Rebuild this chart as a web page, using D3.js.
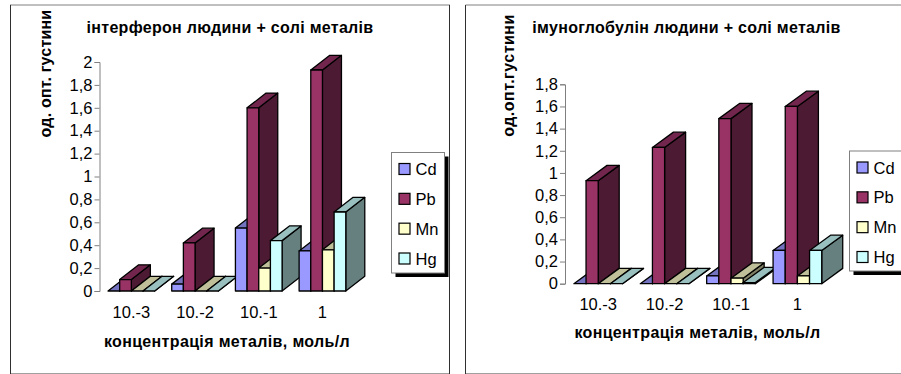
<!DOCTYPE html>
<html>
<head>
<meta charset="utf-8">
<script src="https://cdnjs.cloudflare.com/ajax/libs/d3/7.8.5/d3.min.js"></script>
<style>
  html, body { margin: 0; padding: 0; background: #fff; }
  svg { display: block; }
  text { font-family: "Liberation Sans", Arial, sans-serif; fill: #000; }
</style>
</head>
<body>
<div id="chart"></div>
<script>
const categories = ["10.-3", "10.-2", "10.-1", "1"];
const metals = ["Cd", "Pb", "Mn", "Hg"];

const interferonCd = [0, 0.06, 0.55, 0.35];
const interferonPb = [0.1, 0.42, 1.6, 1.93];
const interferonMn = [0, 0, 0.2, 0.36];
const interferonHg = [0, 0, 0.44, 0.69];
const interferonTicks = [0, 0.2, 0.4, 0.6, 0.8, 1, 1.2, 1.4, 1.6, 1.8, 2];

const globulinCd = [0, 0, 0.07, 0.3];
const globulinPb = [0.93, 1.23, 1.49, 1.6];
const globulinMn = [0, 0, 0.05, 0.07];
const globulinHg = [0, 0, 0.01, 0.3];
const globulinTicks = [0, 0.2, 0.4, 0.6, 0.8, 1, 1.2, 1.4, 1.6, 1.8];

// front, top, side
const colors = {
  Cd: ["#9999ff", "#7373bf", "#4d4d80"],
  Pb: ["#993366", "#73264d", "#4d1a33"],
  Mn: ["#ffffcc", "#bfbf99", "#808066"],
  Hg: ["#ccffff", "#99bfbf", "#668080"],
};

const svg = d3.select("#chart").append("svg")
  .attr("width", 901)
  .attr("height", 374);

const frameLine = (x1, y1, x2, y2, color) => svg.append("line")
  .attr("x1", x1).attr("y1", y1).attr("x2", x2).attr("y2", y2)
  .attr("stroke", color).attr("stroke-width", 1);

frameLine(10, 5, 450, 5, "#808080");
frameLine(10, 373.5, 450, 373.5, "#a0a0a0");
frameLine(10.5, 5, 10.5, 374, "#303030");
frameLine(449.5, 5, 449.5, 374, "#303030");
frameLine(465.5, 5, 901, 5, "#808080");
frameLine(465, 373.5, 901, 373.5, "#a0a0a0");
frameLine(465.5, 5, 465.5, 374, "#303030");

const drawChart = (c) => {
  const g = svg.append("g");

  const x0 = d3.scaleBand().domain(categories).range([c.axisX, c.axisX + c.plotW]);
  const x1 = d3.scaleBand().domain(metals).range([0, x0.bandwidth()]).paddingOuter(c.outer).paddingInner(0);
  const y = d3.scaleLinear().domain(c.domain).range([c.y0, c.y1]);

  const yAxis = d3.axisLeft(y)
    .tickValues(c.ticks)
    .tickSize(5)
    .tickPadding(2)
    .tickFormat((d) => String(d).replace(".", ","));

  const ay = g.append("g").attr("transform", `translate(${c.axisX},0)`).call(yAxis);
  ay.selectAll("path,line").attr("stroke", "#808080");
  ay.selectAll("text").style("font-size", "16.5px");

  const ax = g.append("g")
    .attr("transform", `translate(0,${c.y0})`)
    .call(d3.axisBottom(x0).tickSize(0).tickPadding(c.catPad));
  ax.select(".domain").remove();
  ax.selectAll("text").style("font-size", "16.5px");

  // left to right so every bar covers the side of the one before it
  categories.forEach((cat, i) => {
    metals.forEach((m) => {
      const v = c.values[m][i];
      const l = x0(cat) + x1(m);
      const r = l + x1.bandwidth();
      const t = y(v);
      const b = y(0);
      const bar = g.append("g")
        .attr("stroke", "#000")
        .attr("stroke-width", 1.3)
        .attr("stroke-linejoin", "round");
      bar.append("polygon")
        .attr("points", [[r, b], [r + c.dx, b - c.dy], [r + c.dx, t - c.dy], [r, t]].join(" "))
        .attr("fill", colors[m][2]);
      bar.append("polygon")
        .attr("points", [[l, t], [l + c.dx, t - c.dy], [r + c.dx, t - c.dy], [r, t]].join(" "))
        .attr("fill", colors[m][1]);
      bar.append("rect")
        .attr("x", l).attr("y", t)
        .attr("width", r - l).attr("height", b - t)
        .attr("fill", colors[m][0]);
    });
  });

  const boldText = (sel, spacing) => sel
    .attr("text-anchor", "middle")
    .style("font-size", "16px").style("font-weight", "bold")
    .style("letter-spacing", spacing + "px");

  g.append("text")
    .attr("x", c.titleX).attr("y", 32.5)
    .call(boldText, c.titleSpacing)
    .text(c.title);

  g.append("text")
    .attr("x", c.xTitleX).attr("y", c.xTitleY)
    .call(boldText, 0.35)
    .text("концентрація металів, моль/л");

  g.append("text")
    .attr("transform", `translate(${c.yTitleX},${c.yTitleY}) rotate(-90)`)
    .call(boldText, c.yTitleSpacing)
    .text(c.yTitle);

  // legend with its hard shadow
  const lg = g.append("g");
  lg.append("rect")
    .attr("x", c.legX + 4).attr("y", c.legY + 4)
    .attr("width", c.legW).attr("height", c.legH)
    .attr("fill", "#000");
  lg.append("rect")
    .attr("x", c.legX).attr("y", c.legY)
    .attr("width", c.legW).attr("height", c.legH)
    .attr("fill", "#fff").attr("stroke", "#808080");
  const rows = d3.scalePoint().domain(metals).range([c.legY + 16.5, c.legY + 106]);
  metals.forEach((m) => {
    lg.append("rect")
      .attr("x", c.legX + 7.5).attr("y", rows(m) - 5.5)
      .attr("width", 11).attr("height", 11)
      .attr("fill", colors[m][0])
      .attr("stroke", "#000").attr("stroke-width", 1.2);
    lg.append("text")
      .attr("x", c.legX + 24).attr("y", rows(m) + 6)
      .style("font-size", "16.5px")
      .text(m);
  });
};

drawChart({
  values: { Cd: interferonCd, Pb: interferonPb, Mn: interferonMn, Hg: interferonHg },
  ticks: interferonTicks,
  domain: [0, 2],
  axisX: 99.5, plotW: 254.8, outer: 0.73,
  y0: 291, y1: 62, dx: 19, dy: 14.7, catPad: 15,
  title: "інтерферон людини + солі металів",
  titleX: 230, titleSpacing: 0.3,
  xTitleX: 227, xTitleY: 346.5,
  yTitle: "од. опт. густини",
  yTitleX: 51, yTitleY: 73.5, yTitleSpacing: 0.2,
  legX: 391.5, legY: 152.5, legW: 53, legH: 120.5,
});

drawChart({
  values: { Cd: globulinCd, Pb: globulinPb, Mn: globulinMn, Hg: globulinHg },
  ticks: globulinTicks,
  domain: [0, 1.8],
  axisX: 565, plotW: 265.6, outer: 0.73,
  y0: 283.7, y1: 84.3, dx: 21, dy: 15.3, catPad: 15,
  title: "імуноглобулін людини + солі металів",
  titleX: 686.5, titleSpacing: 0.3,
  xTitleX: 697.5, xTitleY: 338,
  yTitle: "од.опт.густини",
  yTitleX: 513.5, yTitleY: 75.5, yTitleSpacing: 0.5,
  legX: 849.5, legY: 151, legW: 60, legH: 120,
});
</script>
</body>
</html>
